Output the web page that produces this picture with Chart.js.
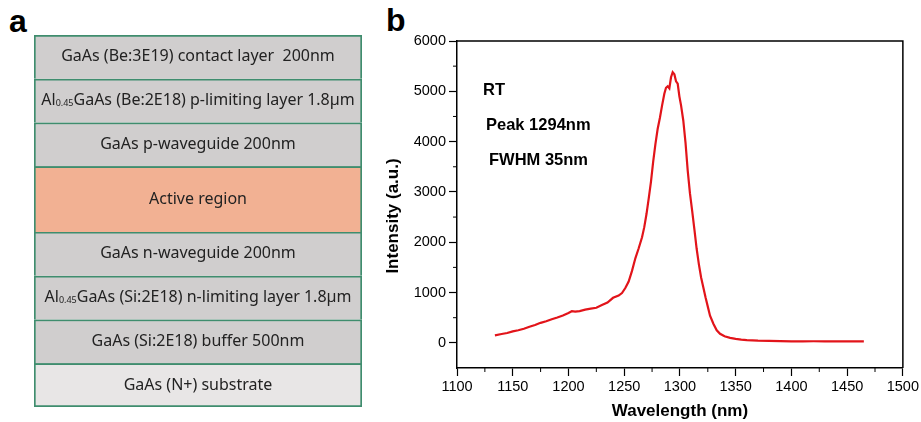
<!DOCTYPE html>
<html>
<head>
<meta charset="utf-8">
<script src="https://cdn.jsdelivr.net/npm/chart.js"></script>
<style>
  body { margin: 0; background: #fff; width: 921px; height: 422px; position: relative; overflow: hidden; }
  .lbl { position: absolute; font-family: "Liberation Sans", Arial, sans-serif; font-weight: bold; font-size: 32px; line-height: 32px; color: #000; }
  #layers { position: absolute; left: 34px; top: 35px; }
  #pl { position: absolute; left: 380px; top: 0; }
</style>
</head>
<body>
<div class="lbl" style="left:9px;top:5px;">a</div>
<div class="lbl" style="left:386px;top:4px;">b</div>
<canvas id="layers" width="328" height="372"></canvas>
<canvas id="pl" width="541" height="422"></canvas>
<script>
// panel a: epitaxial layer stack (top to bottom), "_x_" marks a subscript
var layerNames = [
  'GaAs (Be:3E19) contact layer  200nm',
  'Al_0.45_GaAs (Be:2E18) p-limiting layer 1.8\u00b5m',
  'GaAs p-waveguide 200nm',
  'Active region',
  'GaAs n-waveguide 200nm',
  'Al_0.45_GaAs (Si:2E18) n-limiting layer 1.8\u00b5m',
  'GaAs (Si:2E18) buffer 500nm',
  'GaAs (N+) substrate'
];
var layerThickness = [1, 1, 1, 1.5, 1, 1, 1, 1];

// panel b: PL spectrum at RT
var wavelength = [1134,1140,1145,1150,1155,1160,1165,1170,1175,1180,1185,1190,1195,1200,1203,1206,1210,1215,1220,1225,
  1230,1235,1240,1245,1248,1251,1254,1257,1260,1263,1266,1268,1270,1272,1274,1276,1278,1280,1282,1284,
  1286,1287.5,1289,1290.5,1292,1293.5,1295,1296.5,1298,1299.5,1301,1303,1305,1307,1309,1311,1313,1315,1317,1319,
  1321,1323,1325,1327,1330,1333,1336,1340,1345,1350,1355,1360,1370,1380,1390,1400,1410,1420,1430,1440,1450,1460,1465];
var intensity = [150,175,195,228,250,280,320,355,398,430,470,505,545,595,628,620,632,660,680,697,
  750,800,895,940,990,1090,1220,1430,1680,1880,2100,2300,2560,2870,3200,3600,3950,4250,4470,4720,
  4950,5070,5100,5060,5280,5380,5340,5200,5150,4900,4720,4420,3980,3420,2970,2620,2250,1870,1560,1300,
  1100,900,720,540,380,250,180,130,100,80,65,55,45,40,35,30,30,32,30,30,28,28,28];

var xTicks = [1100,1150,1200,1250,1300,1350,1400,1450,1500];
var yTicks = [0,1000,2000,3000,4000,5000,6000];
var xMinor = [1125,1175,1225,1275,1325,1375,1425,1475];
var yMinor = [500,1500,2500,3500,4500,5500];
var notes = ['RT', 'Peak 1294nm', 'FWHM 35nm'];

var layerFill = ['#d0cece','#d0cece','#d0cece','#f2b193','#d0cece','#d0cece','#d0cece','#e8e6e6'];
var edge = '#3f8d6e';

var layerText = {
  id: 'layerText',
  afterDatasetsDraw: function(chart) {
    var ctx = chart.ctx;
    var cx = (chart.chartArea.left + chart.chartArea.right) / 2;
    ctx.save();
    ctx.fillStyle = '#222';
    ctx.textBaseline = 'middle';
    chart.data.datasets.forEach(function(ds, i) {
      var el = chart.getDatasetMeta(i).data[0];
      var p = el.getProps(['y', 'base'], true);
      var cy = (p.y + p.base) / 2;
      var parts = layerNames[i].split('_');
      var big = '16px "Noto Sans", sans-serif', small = '9px "Noto Sans", sans-serif';
      var w = 0;
      parts.forEach(function(t, k) { ctx.font = k % 2 ? small : big; w += ctx.measureText(t).width; });
      var x = cx - w / 2;
      parts.forEach(function(t, k) {
        ctx.font = k % 2 ? small : big;
        ctx.fillText(t, x, cy + (k % 2 ? 2.5 : 0));
        x += ctx.measureText(t).width;
      });
    });
    ctx.restore();
  }
};

new Chart(document.getElementById('layers'), {
  type: 'bar',
  data: {
    labels: [''],
    datasets: layerNames.map(function(n, i) {
      return {
        label: n,
        data: [layerThickness[i]],
        backgroundColor: layerFill[i],
        borderColor: edge,
        borderWidth: { top: 2, left: 2, right: 2, bottom: i == layerNames.length - 1 ? 2 : 0 },
        borderSkipped: false,
        barPercentage: 1,
        categoryPercentage: 1
      };
    })
  },
  options: {
    responsive: false,
    devicePixelRatio: 1,
    animation: false,
    layout: { padding: 0 },
    plugins: { legend: { display: false }, tooltip: { enabled: false } },
    scales: {
      x: { display: false, stacked: true },
      y: { display: false, stacked: true, reverse: true, min: 0,
           max: layerThickness.reduce(function(a, b) { return a + b; }, 0) }
    }
  },
  plugins: [layerText]
});

var frame = {
  id: 'frame',
  afterDraw: function(chart) {
    var ctx = chart.ctx, a = chart.chartArea;
    var xs = chart.scales.x, ys = chart.scales.y;
    ctx.save();
    ctx.strokeStyle = '#000';
    ctx.lineWidth = 1.5;
    ctx.beginPath();
    ctx.moveTo(a.left, a.top); ctx.lineTo(a.right, a.top); ctx.lineTo(a.right, a.bottom);
    ctx.stroke();
    ctx.lineWidth = 1;
    ctx.beginPath();
    xMinor.forEach(function(v) { var px = xs.getPixelForValue(v); ctx.moveTo(px, a.bottom); ctx.lineTo(px, a.bottom + 4); });
    yMinor.forEach(function(v) { var py = ys.getPixelForValue(v); ctx.moveTo(a.left, py); ctx.lineTo(a.left - 4, py); });
    ctx.stroke();
    // y axis title
    ctx.fillStyle = '#000';
    ctx.font = 'bold 17px "Liberation Sans", Arial, sans-serif';
    ctx.textAlign = 'center';
    ctx.textBaseline = 'middle';
    ctx.translate(13, 216);
    ctx.rotate(-Math.PI / 2);
    ctx.fillText('Intensity (a.u.)', 0, 0);
    ctx.restore();
    // notes
    ctx.save();
    ctx.fillStyle = '#000';
    ctx.font = 'bold 16.5px "Liberation Sans", Arial, sans-serif';
    ctx.textBaseline = 'middle';
    notes.forEach(function(t, i) { ctx.fillText(t, a.left + 26 + i * 3, a.top + 49 + i * 35); });
    ctx.restore();
  }
};

var tickFont = { family: '"Liberation Sans", Arial, sans-serif', size: 14.5 };

new Chart(document.getElementById('pl'), {
  type: 'line',
  data: {
    datasets: [{
      data: wavelength.map(function(w, i) { return { x: w, y: intensity[i] }; }),
      borderColor: '#e2141a',
      borderWidth: 2.2,
      pointRadius: 0,
      tension: 0,
      fill: false
    }]
  },
  options: {
    responsive: false,
    devicePixelRatio: 1,
    animation: false,
    layout: { padding: { top: 41, right: 18, left: 0, bottom: 0 } },
    plugins: { legend: { display: false }, tooltip: { enabled: false } },
    scales: {
      x: {
        type: 'linear', min: 1100, max: 1500,
        afterBuildTicks: function(s) { s.ticks = xTicks.map(function(v) { return { value: v }; }); },
        afterFit: function(s) { s.height = 54; },
        ticks: { font: tickFont, color: '#000', padding: 2, maxRotation: 0, autoSkip: false,
                 callback: function(v) { return String(v); } },
        grid: { drawOnChartArea: false, tickLength: 8, tickColor: '#000', tickWidth: 1.2 },
        border: { color: '#000', width: 1.5 },
        title: { display: true, text: 'Wavelength (nm)', color: '#000',
                 font: { family: '"Liberation Sans", Arial, sans-serif', size: 17, weight: 'bold' },
                 padding: { top: 0, bottom: 0 } }
      },
      y: {
        type: 'linear', min: -500, max: 6000,
        afterBuildTicks: function(s) { s.ticks = yTicks.map(function(v) { return { value: v }; }); },
        afterFit: function(s) { s.width = 77; },
        ticks: { font: tickFont, color: '#000', padding: 3, autoSkip: false,
                 callback: function(v) { return String(v); } },
        grid: { drawOnChartArea: false, tickLength: 8, tickColor: '#000', tickWidth: 1.2 },
        border: { color: '#000', width: 1.5 }
      }
    }
  },
  plugins: [frame]
});
</script>
</body>
</html>
